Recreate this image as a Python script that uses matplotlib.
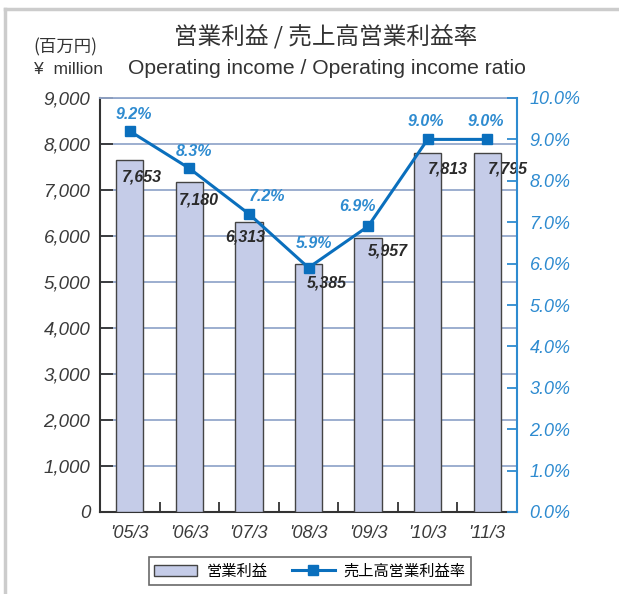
import matplotlib.pyplot as plt
from matplotlib.lines import Line2D
from matplotlib.patches import Patch

plt.rcParams['font.family'] = ['Liberation Sans', 'Noto Sans CJK JP', 'DejaVu Sans']

years = ["'05/3", "'06/3", "'07/3", "'08/3", "'09/3", "'10/3", "'11/3"]
income = [7653, 7180, 6313, 5385, 5957, 7813, 7795]
ratio = [9.2, 8.3, 7.2, 5.9, 6.9, 9.0, 9.0]

# label offsets in pixels (bar labels / ratio labels)
bar_dx = [12, 10, -4, 18, 20, 20, 21]
bar_dy = [-17, -18, -15, -19, -13, -16, -16]
pct_dx = [4, 5, 18, 6, -11, -2, -1]
pct_dy = [17, 17, 17, 24, 20, 18, 18]

bar_col = '#c5cce8'
line_col = '#0a6fbd'
axis_blue = '#2e8bd0'
grid_col = '#94a8cc'
txt_col = '#3a3a3a'

fig = plt.figure(figsize=(6.19, 5.94), dpi=100)
ax = fig.add_axes([100 / 619, 82 / 594, 417 / 619, 414 / 594])
ax2 = ax.twinx()

x = list(range(len(years)))
ax.bar(x, income, width=0.46, color=bar_col, edgecolor='#444444', linewidth=1, zorder=3)
ax.set_xlim(-0.5, 6.5)
ax.set_ylim(0, 9000)
ax.set_yticks(range(0, 9001, 1000))
ax.set_yticklabels([f'{v:,}' for v in range(0, 9001, 1000)])
ax.yaxis.grid(True, color=grid_col, linewidth=1.3, zorder=0)
ax.set_axisbelow(True)
ax.set_xticks(x)
ax.set_xticklabels(years)
ax.set_xticks([i + 0.5 for i in x[:-1]], minor=True)
ax.tick_params(axis='x', which='major', length=0, pad=9, labelsize=13, labelcolor=txt_col)
ax.tick_params(axis='x', which='minor', direction='in', length=7, width=1.3, color='#333333')
ax.tick_params(axis='y', direction='in', length=9, width=1.3, color='#333333',
               pad=7, labelsize=13.5, labelcolor=txt_col)
for lab in ax.get_xticklabels() + ax.get_yticklabels():
    lab.set_fontstyle('italic')

for sp in ['left', 'bottom']:
    ax.spines[sp].set_color('#333333')
    ax.spines[sp].set_linewidth(1.5)
ax.spines['top'].set_color(grid_col)
ax.spines['top'].set_linewidth(1.3)
ax.spines['right'].set_visible(False)
ax2.spines['top'].set_visible(False)
ax2.spines['left'].set_visible(False)
ax2.spines['bottom'].set_visible(False)
ax2.spines['right'].set_color(axis_blue)
ax2.spines['right'].set_linewidth(1.5)

ax2.plot(x, ratio, color=line_col, linewidth=2.2, marker='s', markersize=7.7,
         markerfacecolor=line_col, markeredgecolor=line_col, zorder=4)
ax2.set_ylim(0, 10)
ax2.set_yticks(range(0, 11))
ax2.set_yticklabels([f'{v:.1f}%' for v in range(0, 11)])
ax2.tick_params(axis='y', direction='in', length=7, width=1.3, color=axis_blue,
                pad=9, labelsize=13, labelcolor=axis_blue)
for lab in ax2.get_yticklabels():
    lab.set_fontstyle('italic')

for i, v in enumerate(income):
    ax.annotate(f'{v:,}', (i, v), xytext=(bar_dx[i], bar_dy[i]), textcoords='offset pixels',
                ha='center', va='center', fontsize=11.5, fontstyle='italic',
                fontweight='bold', color='#2a2a2a', zorder=5)
for i, v in enumerate(ratio):
    ax2.annotate(f'{v:.1f}%', (i, v), xytext=(pct_dx[i], pct_dy[i]), textcoords='offset pixels',
                 ha='center', va='center', fontsize=11.5, fontstyle='italic',
                 fontweight='bold', color=axis_blue, zorder=5)

fig.text(326 / 619, 1 - 36 / 594, '営業利益 / 売上高営業利益率', ha='center', va='center',
         fontsize=17, color='#333333', family=['Noto Sans CJK JP'])
fig.text(327 / 619, 1 - 69 / 594, 'Operating income / Operating income ratio',
         ha='center', va='center', fontsize=15.2, color='#333333')
fig.text(33 / 619, 1 - 47 / 594, '(百万円)', ha='left', va='center', fontsize=12.5,
         color='#333333', family=['Noto Sans CJK JP'])
fig.text(34 / 619, 1 - 70 / 594, '¥  million', ha='left', va='center', fontsize=12.5,
         color='#333333')

handles = [Patch(facecolor=bar_col, edgecolor='#444444', linewidth=1),
           Line2D([], [], color=line_col, linewidth=2.2, marker='s', markersize=7)]
leg = fig.legend(handles, ['営業利益', '売上高営業利益率'], loc='center',
                 bbox_to_anchor=(310 / 619, 1 - 571 / 594), ncol=2, frameon=True,
                 fancybox=False, edgecolor='#444444', prop={'family': 'Noto Sans CJK JP', 'size': 11},
                 handlelength=2.8, handleheight=0.7, columnspacing=1.6, borderpad=0.35,
                 handletextpad=0.6)
leg.get_frame().set_linewidth(1.2)

# light gray frame on top/left
fig.add_artist(Line2D([5 / 619, 5 / 619], [0, 1 - 9 / 594], transform=fig.transFigure,
                      color='#cccccc', linewidth=2.5))
fig.add_artist(Line2D([5 / 619, 1], [1 - 9 / 594, 1 - 9 / 594], transform=fig.transFigure,
                      color='#cccccc', linewidth=2.5))

fig.savefig('out.png', dpi=100)
